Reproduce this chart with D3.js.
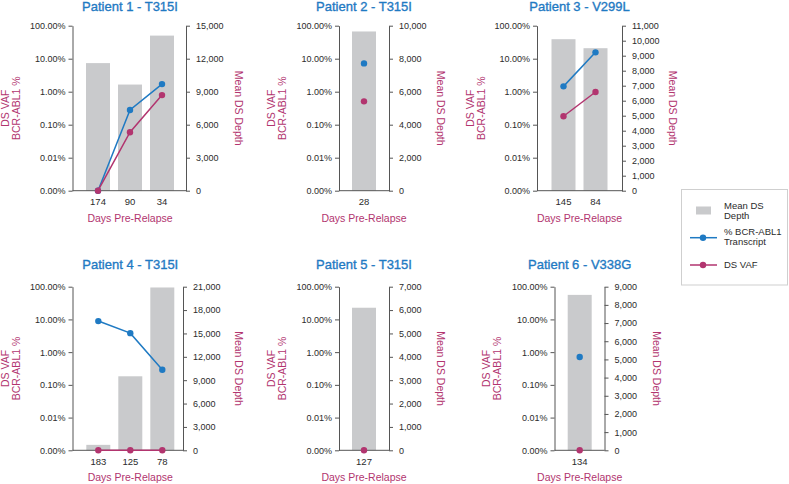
<!DOCTYPE html>
<html>
<head>
<meta charset="utf-8">
<script src="https://cdn.jsdelivr.net/npm/d3@7"></script>
<style>
  html, body { margin: 0; padding: 0; background: #fff; }
  svg { display: block; font-family: "Liberation Sans", Arial, Helvetica, sans-serif; }
</style>
</head>
<body>
<svg id="chart" width="789" height="484"></svg>
<script>
// ---------- DATA ----------
const titles = ["Patient 1 - T315I", "Patient 2 - T315I", "Patient 3 - V299L",
                "Patient 4 - T315I", "Patient 5 - T315I", "Patient 6 - V338G"];
const days1 = ["174", "90", "34"];
const days2 = ["28"];
const days3 = ["145", "84"];
const days4 = ["183", "125", "78"];
const days5 = ["127"];
const days6 = ["134"];
const depth1 = [11600, 9650, 14100];
const depth2 = [9650];
const depth3 = [10100, 9500];
const depth4 = [700, 9500, 20900];
const depth5 = [6100];
const depth6 = [8550];
const bcr1 = [0, 0.28, 1.7];
const bcr2 = [7.2];
const bcr3 = [1.45, 15.6];
const bcr4 = [8.9, 3.8, 0.29];
const bcr5 = [null];
const bcr6 = [0.71];
const vaf1 = [0, 0.059, 0.79];
const vaf2 = [0.51];
const vaf3 = [0.18, 0.98];
const vaf4 = [0, 0, 0];
const vaf5 = [0];
const vaf6 = [0];
const depthMax = [15000, 10000, 11000, 21000, 7000, 9000];
const depthStep = [3000, 2000, 1000, 3000, 1000, 1000];
const pctTicks = [0.001, 0.01, 0.1, 1, 10, 100];
const legendLabels = [["Mean DS", "Depth"], ["% BCR-ABL1", "Transcript"], ["DS VAF"]];

const panels = [
  {days: days1, depth: depth1, bcr: bcr1, vaf: vaf1},
  {days: days2, depth: depth2, bcr: bcr2, vaf: vaf2},
  {days: days3, depth: depth3, bcr: bcr3, vaf: vaf3},
  {days: days4, depth: depth4, bcr: bcr4, vaf: vaf4},
  {days: days5, depth: depth5, bcr: bcr5, vaf: vaf5},
  {days: days6, depth: depth6, bcr: bcr6, vaf: vaf6}
];

// ---------- LAYOUT ----------
const layout = [
  {L: 72.5, R: 186, mid: 130,   top: 25.7,  bot: 190.7, titleY: 10.5,  lab: 5,   rlab: 239},
  {L: 339,  R: 389, mid: 364,   top: 25.7,  bot: 190.7, titleY: 10.5,  lab: 271, rlab: 441},
  {L: 537,  R: 622, mid: 579.5, top: 25.7,  bot: 190.7, titleY: 10.5,  lab: 470, rlab: 673},
  {L: 72.5, R: 183, mid: 130.3, top: 286.7, bot: 450.3, titleY: 268.5, lab: 5,   rlab: 239},
  {L: 339,  R: 389, mid: 364,   top: 286.7, bot: 450.3, titleY: 268.5, lab: 271, rlab: 441},
  {L: 554.5,R: 604.5, mid: 579.7, top: 286.7, bot: 450.3, titleY: 268.5, lab: 486, rlab: 656.5}
];

const BLUE = "#1f7ac3";
const PINK = "#b2356f";
const GREY = "#c9cacc";
const TEXT = "#2b2b2b";
const AXIS = "#555";

const svg = d3.select("#chart");
const fmtPct = d3.format(".2f");
const fmtNum = d3.format(",");

panels.forEach((p, i) => {
  const lo = layout[i];
  const g = svg.append("g");
  const n = p.days.length;

  const x = d3.scaleBand().domain(p.days)
    .range([lo.mid - n * 16, lo.mid + n * 16])
    .paddingInner(0.25).paddingOuter(0.125);
  const yL = d3.scaleLog().domain([0.001, 100]).range([lo.bot, lo.top]).clamp(true);
  const yPct = v => v > 0 ? yL(v) : yL(0.001);
  const yR = d3.scaleLinear().domain([0, depthMax[i]]).range([lo.bot, lo.top]);

  // bars
  g.selectAll("rect.bar").data(p.days).join("rect")
    .attr("x", d => x(d)).attr("width", x.bandwidth())
    .attr("y", (d, j) => yR(p.depth[j]))
    .attr("height", (d, j) => lo.bot - yR(p.depth[j]))
    .attr("fill", GREY);

  // left axis
  const axL = d3.axisLeft(yL).tickValues(pctTicks)
    .tickFormat(v => fmtPct(v) + "%").tickSize(4).tickSizeOuter(0).tickPadding(3);
  const gl = g.append("g").attr("transform", `translate(${lo.L},0)`).call(axL);
  gl.select(".domain").attr("stroke", AXIS);
  gl.selectAll(".tick line").attr("stroke", AXIS);
  gl.selectAll("text").attr("font-size", 9).attr("fill", TEXT)
    .attr("font-family", "'Liberation Sans', Arial, sans-serif");

  // right axis
  const axR = d3.axisRight(yR).tickValues(d3.range(0, depthMax[i] + 1, depthStep[i]))
    .tickFormat(fmtNum).tickSize(4).tickSizeOuter(0).tickPadding(6);
  const gr = g.append("g").attr("transform", `translate(${lo.R},0)`).call(axR);
  gr.select(".domain").attr("stroke", AXIS);
  gr.selectAll(".tick line").attr("stroke", AXIS);
  gr.selectAll("text").attr("font-size", 9).attr("fill", TEXT)
    .attr("font-family", "'Liberation Sans', Arial, sans-serif");

  // bottom axis
  const axB = d3.axisBottom(x).tickSize(0).tickPadding(8);
  const gb = g.append("g").attr("transform", `translate(0,${lo.bot})`).call(axB);
  gb.select(".domain").remove();
  gb.selectAll("text").attr("font-size", 9.5).attr("fill", TEXT)
    .attr("font-family", "'Liberation Sans', Arial, sans-serif");
  g.append("line").attr("x1", lo.L).attr("x2", lo.R)
    .attr("y1", lo.bot).attr("y2", lo.bot).attr("stroke", AXIS);

  // series
  const cx = d => x(d) + x.bandwidth() / 2;
  const series = [{vals: p.bcr, color: BLUE}, {vals: p.vaf, color: PINK}];
  series.forEach(s => {
    const pts = p.days.map((d, j) => ({d, v: s.vals[j]})).filter(o => o.v !== null);
    const line = d3.line().x(o => cx(o.d)).y(o => yPct(o.v));
    if (pts.length > 1) {
      g.append("path").attr("d", line(pts)).attr("fill", "none")
        .attr("stroke", s.color).attr("stroke-width", 1.5);
    }
    g.selectAll(null).data(pts).join("circle")
      .attr("cx", o => cx(o.d)).attr("cy", o => yPct(o.v)).attr("r", 3.2)
      .attr("fill", s.color);
  });

  // title
  g.append("text").attr("x", lo.mid).attr("y", lo.titleY)
    .attr("text-anchor", "middle").attr("font-size", 13).attr("fill", BLUE)
    .attr("stroke", BLUE).attr("stroke-width", 0.35)
    .text(titles[i]);

  // left axis title (two lines)
  const cy = (lo.top + lo.bot) / 2;
  const lt = g.append("text").attr("transform", `translate(${lo.lab + 3.8},${cy}) rotate(-90)`)
    .attr("text-anchor", "middle").attr("font-size", 10.5).attr("fill", PINK);
  lt.append("tspan").attr("x", 0).attr("y", 0).text("DS VAF");
  lt.append("tspan").attr("x", 0).attr("y", 11).text("BCR-ABL1 %");

  // right axis title
  g.append("text").attr("transform", `translate(${lo.rlab - 3.8},${cy}) rotate(90)`)
    .attr("text-anchor", "middle").attr("font-size", 10.5).attr("fill", PINK)
    .text("Mean DS Depth");

  // x axis title
  g.append("text").attr("x", lo.mid).attr("y", lo.bot + 31)
    .attr("text-anchor", "middle").attr("font-size", 10.5).attr("fill", PINK)
    .text("Days Pre-Relapse");
});

// ---------- LEGEND ----------
const lg = svg.append("g");
lg.append("rect").attr("x", 681.5).attr("y", 189.5).attr("width", 106).attr("height", 95.5)
  .attr("fill", "#fff").attr("stroke", "#cfcfcf");
lg.append("rect").attr("x", 696).attr("y", 206.5).attr("width", 15).attr("height", 8).attr("fill", GREY);
[[BLUE, 237.7], [PINK, 265]].forEach(([c, y]) => {
  lg.append("line").attr("x1", 690).attr("x2", 717).attr("y1", y).attr("y2", y)
    .attr("stroke", c).attr("stroke-width", 1.5);
  lg.append("circle").attr("cx", 703).attr("cy", y).attr("r", 3.2).attr("fill", c);
});
const legY = [208.5, 234.5, 268];
legendLabels.forEach((lines, k) => {
  const t = lg.append("text").attr("x", 724).attr("y", legY[k]).attr("font-size", 9.5).attr("fill", TEXT);
  lines.forEach((s, m) => t.append("tspan").attr("x", 724).attr("dy", m === 0 ? 0 : 10.5).text(s));
});
</script>
</body>
</html>
